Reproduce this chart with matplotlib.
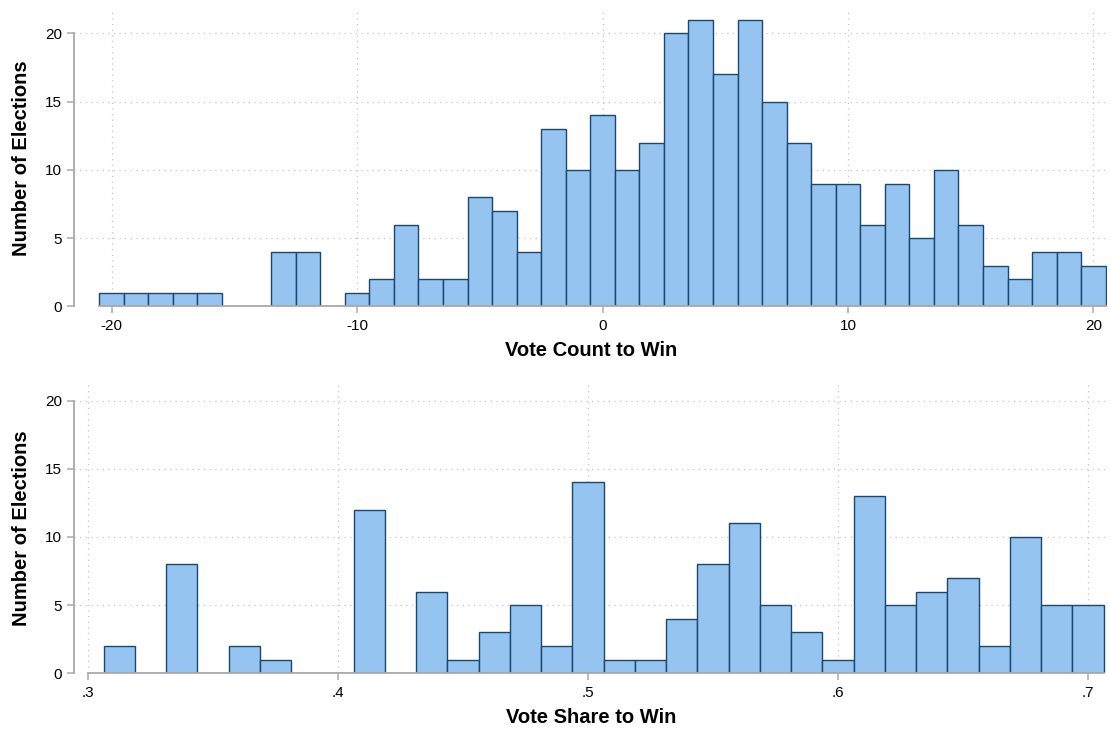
import numpy as np
import matplotlib
matplotlib.use("Agg")
from matplotlib import pyplot as plt

plt.rcParams['font.family'] = ['Liberation Sans', 'DejaVu Sans']

# vote count to win: one bar per integer value
count_values = list(range(-20, 21))
count_freq = [1, 1, 1, 1, 1, 0, 0, 4, 4, 0, 1, 2, 6, 2, 2, 8, 7, 4, 13, 10,
              14, 10, 12, 20, 21, 17, 21, 15, 12, 9, 9, 6, 9, 5, 10, 6, 3, 2, 4, 4, 3]

# vote share to win: 32 bins
share_start = 0.3064
share_width = 0.0125
share_freq = [2, 0, 8, 0, 2, 1, 0, 0, 12, 0, 6, 1, 3, 5, 2, 14, 1, 1, 4, 8,
              11, 5, 3, 1, 13, 5, 6, 7, 2, 10, 5, 5]

count_ticks = [-20, -10, 0, 10, 20]
share_ticks = [0.3, 0.4, 0.5, 0.6, 0.7]
share_ticklabels = ['.3', '.4', '.5', '.6', '.7']
y_ticks = [0, 5, 10, 15, 20]

fill = '#96c4f0'
edge = '#1a476f'
axis_grey = '#a9a9a9'
grid_grey = '#c4c4c4'

fig = plt.figure(figsize=(11.1, 7.32), dpi=100)
ax1 = fig.add_axes([0.0669, 0.5813, 0.9306, 0.4050])
ax2 = fig.add_axes([0.0669, 0.0802, 0.9306, 0.3966])


def style(ax, xticks, xticklabels, xlab, xbounds):
    ax.set_axisbelow(True)
    ax.grid(True, linestyle=(0, (1, 3.5)), color=grid_grey, linewidth=0.9)
    for s in ['top', 'right']:
        ax.spines[s].set_visible(False)
    for s in ['left', 'bottom']:
        ax.spines[s].set_color(axis_grey)
        ax.spines[s].set_linewidth(1.3)
    ax.spines['left'].set_bounds(0, 20)
    ax.spines['bottom'].set_bounds(*xbounds)
    ax.set_yticks(y_ticks)
    ax.set_xticks(xticks)
    ax.set_xticklabels(xticklabels)
    ax.tick_params(axis='both', colors=axis_grey, labelcolor='black',
                   length=5, width=1.1, labelsize=11, pad=4)
    ax.set_ylabel('Number of Elections', fontsize=14.5, fontweight='bold', labelpad=10)
    ax.set_xlabel(xlab, fontsize=14.5, fontweight='bold', labelpad=6)


ax1.bar(count_values, count_freq, width=1.0, color=fill, edgecolor=edge, linewidth=1.0)
ax1.set_xlim(-21.52, 20.56)
ax1.set_ylim(0, 21.7)
style(ax1, count_ticks, [str(t) for t in count_ticks], 'Vote Count to Win', (-20.5, 20.5))

share_edges = share_start + share_width * np.arange(len(share_freq))
ax2.bar(share_edges, share_freq, width=share_width, align='edge',
        color=fill, edgecolor=edge, linewidth=1.0)
ax2.set_xlim(0.29465, 0.7078)
ax2.set_ylim(0, 21.3)
style(ax2, share_ticks, share_ticklabels, 'Vote Share to Win',
      (0.3, share_start + share_width * len(share_freq)))

fig.savefig('out.png', dpi=100)
